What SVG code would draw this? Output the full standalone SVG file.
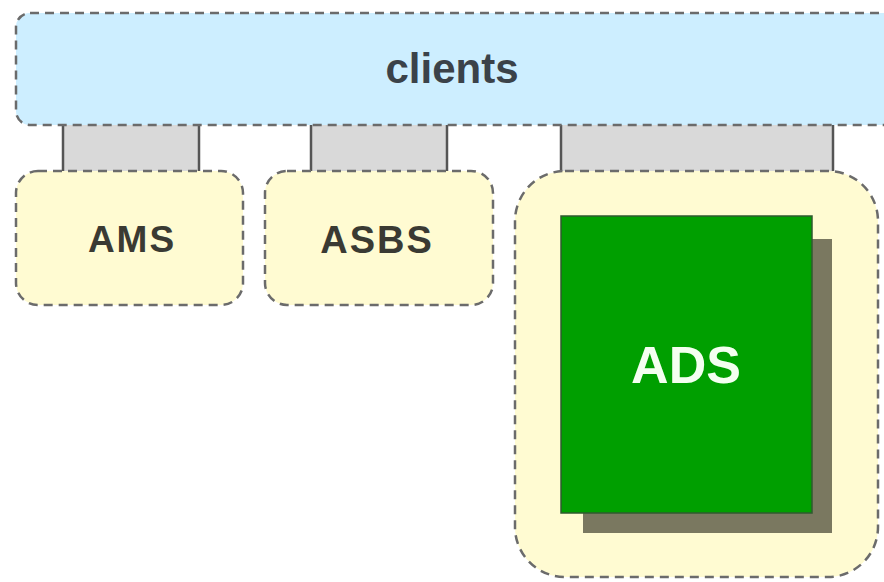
<svg xmlns="http://www.w3.org/2000/svg" width="884" height="582" viewBox="0 0 884 582">
  <style>
    .box { stroke: #6b6b6b; stroke-width: 2.5; stroke-dasharray: 9 6; }
    .client { fill: #cdeeff; }
    .svc { fill: #fffbd2; }
    .link { fill: #d9d9d9; stroke: none; }
    .linkEdge { stroke: #555; stroke-width: 2.5; }
    .lbl { font-family: "Liberation Sans", Arial, sans-serif; font-weight: bold; text-anchor: middle; fill: #3a3a33; }
  </style>
  <rect width="884" height="582" fill="#ffffff"/>

  <g id="connectors">
    <rect class="link" x="63" y="124" width="136" height="48"/>
    <line class="linkEdge" x1="63" y1="124" x2="63" y2="171"/>
    <line class="linkEdge" x1="199" y1="124" x2="199" y2="171"/>
    <rect class="link" x="311" y="124" width="136" height="48"/>
    <line class="linkEdge" x1="311" y1="124" x2="311" y2="171"/>
    <line class="linkEdge" x1="447" y1="124" x2="447" y2="171"/>
    <rect class="link" x="561" y="124" width="272" height="48"/>
    <line class="linkEdge" x1="561" y1="124" x2="561" y2="171"/>
    <line class="linkEdge" x1="833" y1="124" x2="833" y2="171"/>
  </g>

  <g id="clients">
    <rect class="box client" x="16" y="13" width="890" height="112" rx="14"/>
    <text class="lbl" x="452" y="83" font-size="42" fill="#3b4249" style="fill:#3b4249">clients</text>
  </g>

  <g id="ams">
    <rect class="box svc" x="16" y="171" width="227" height="134" rx="22"/>
    <text class="lbl" x="132" y="252" font-size="37" letter-spacing="2">AMS</text>
  </g>

  <g id="asbs">
    <rect class="box svc" x="265" y="171" width="228" height="134" rx="22"/>
    <text class="lbl" x="377" y="253" font-size="38" letter-spacing="2">ASBS</text>
  </g>

  <g id="ads">
    <rect class="box svc" x="515" y="171" width="363" height="406" rx="50"/>
    <rect x="583" y="239" width="249" height="294" fill="#7a7860"/>
    <rect x="561" y="216" width="251" height="297" fill="#009f00" stroke="#2f5a2f" stroke-width="1.5"/>
    <text class="lbl" x="686" y="383" font-size="52" style="fill:#f4fff0">ADS</text>
  </g>
</svg>
